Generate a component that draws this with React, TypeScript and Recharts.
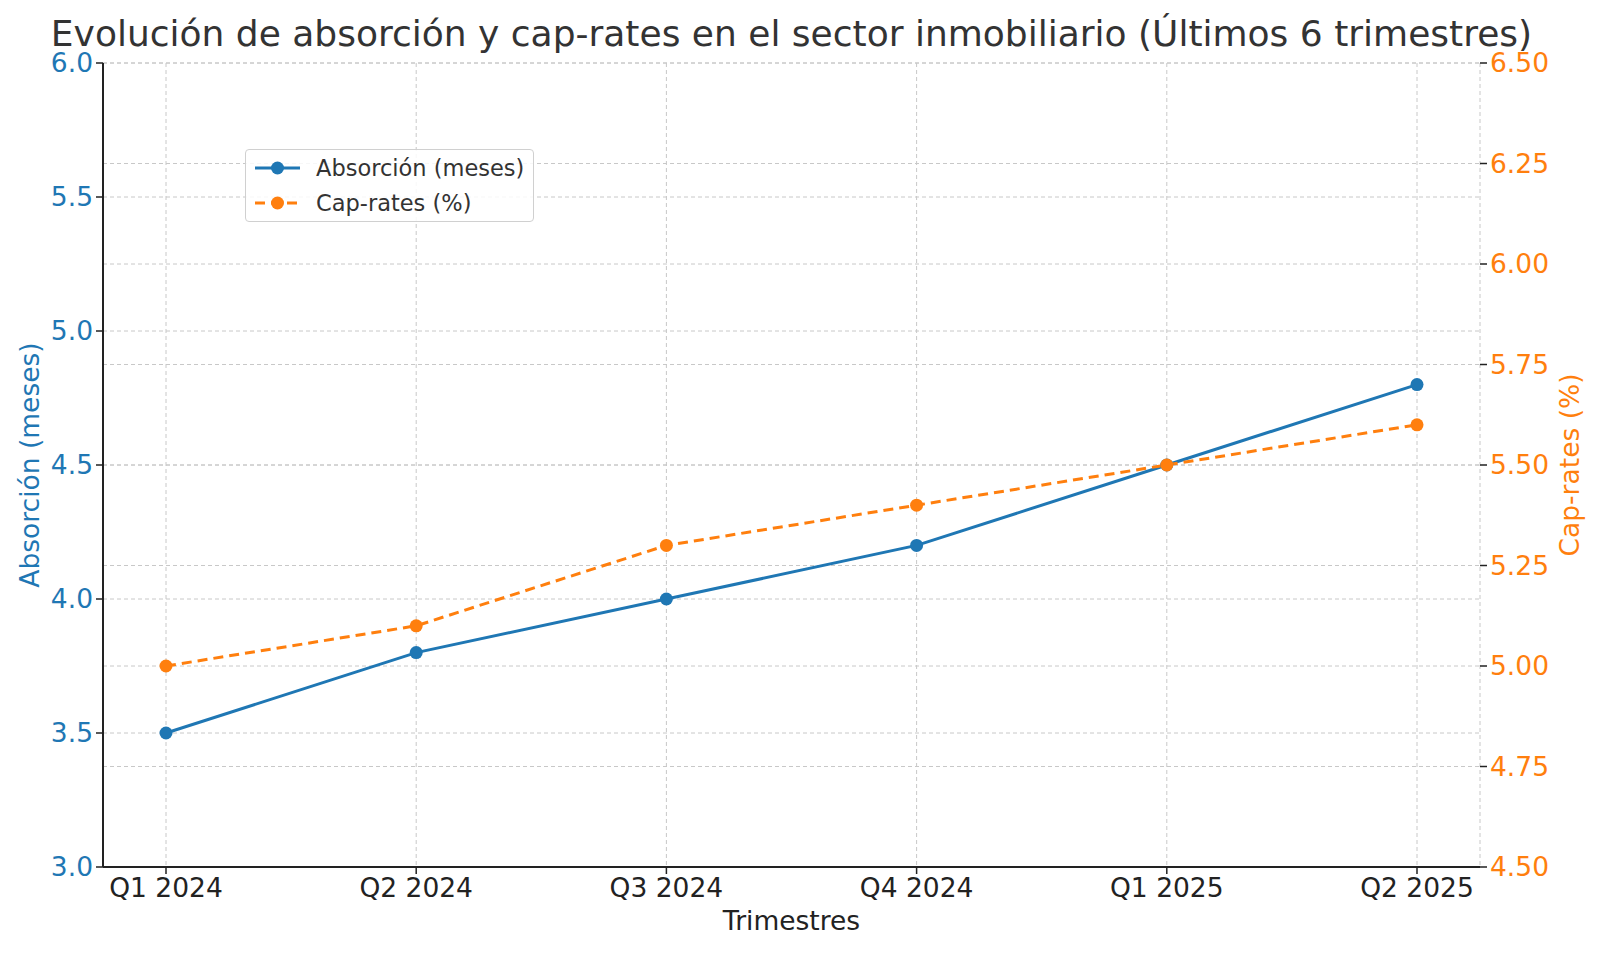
import React from 'react';
import {
  LineChart,
  Line,
  XAxis,
  YAxis,
  CartesianGrid,
} from 'recharts';

const quarters = ['Q1 2024', 'Q2 2024', 'Q3 2024', 'Q4 2024', 'Q1 2025', 'Q2 2025'];
const absorcion = [3.5, 3.8, 4.0, 4.2, 4.5, 4.8];
const capRates = [5.0, 5.1, 5.3, 5.4, 5.5, 5.6];
const leftTicks = [3.0, 3.5, 4.0, 4.5, 5.0, 5.5, 6.0];
const rightTicks = [4.5, 4.75, 5.0, 5.25, 5.5, 5.75, 6.0, 6.25, 6.5];

const BLUE = '#1f77b4';
const ORANGE = '#ff7f0e';
const FONT = '"DejaVu Sans", sans-serif';
const TICK_FS = 26.5;

const data = quarters.map((q, i) => ({ q, abs: absorcion[i], cap: capRates[i] }));

function LegendRow({ color, dashed, label }: { color: string; dashed?: boolean; label: string }) {
  return (
    <div style={{ display: 'flex', alignItems: 'center', height: 35 }}>
      <svg width={60} height={20} style={{ marginLeft: 4, marginRight: 6 }}>
        <line
          x1={5}
          y1={10}
          x2={50}
          y2={10}
          stroke={color}
          strokeWidth={3}
          strokeDasharray={dashed ? '10 6' : undefined}
        />
        <circle cx={27.5} cy={10} r={6.5} fill={color} />
      </svg>
      <span>{label}</span>
    </div>
  );
}

export default function App() {
  return (
    <div
      style={{
        position: 'absolute',
        left: 0,
        top: 0,
        width: 1600,
        height: 953,
        background: '#fff',
        fontFamily: FONT,
      }}
    >
      <div
        style={{
          position: 'absolute',
          top: 13,
          left: 0,
          width: 1583,
          textAlign: 'center',
          fontSize: 36,
          color: '#333',
          whiteSpace: 'nowrap',
        }}
      >
        Evolución de absorción y cap-rates en el sector inmobiliario (Últimos 6 trimestres)
      </div>

      <LineChart
        width={1600}
        height={953}
        data={data}
        margin={{ top: 63, right: 40, bottom: 26, left: 43 }}
      >
        <CartesianGrid
          yAxisId="left"
          stroke="#c8c8c8"
          strokeDasharray="4 3"
        />
        <CartesianGrid
          yAxisId="right"
          vertical={false}
          stroke="#c8c8c8"
          strokeDasharray="4 3"
        />
        <XAxis
          dataKey="q"
          padding={{ left: 63, right: 63 }}
          height={60}
          tick={{ fill: '#222', fontSize: TICK_FS, fontFamily: FONT }}
          tickLine={{ stroke: '#222', strokeWidth: 1.5 }}
          axisLine={{ stroke: '#222', strokeWidth: 2 }}
          tickSize={7}
          tickMargin={4}
        />
        <YAxis
          yAxisId="left"
          domain={[3, 6]}
          ticks={leftTicks}
          tickFormatter={(v: number) => v.toFixed(1)}
          width={60}
          tick={{ fill: BLUE, fontSize: TICK_FS, fontFamily: FONT }}
          tickLine={{ stroke: '#222', strokeWidth: 1.5 }}
          axisLine={{ stroke: '#222', strokeWidth: 2 }}
          tickSize={7}
          tickMargin={3}
        />
        <YAxis
          yAxisId="right"
          orientation="right"
          domain={[4.5, 6.5]}
          ticks={rightTicks}
          tickFormatter={(v: number) => v.toFixed(2)}
          width={80}
          tick={{ fill: ORANGE, fontSize: TICK_FS, fontFamily: FONT }}
          tickLine={{ stroke: '#222', strokeWidth: 1.5 }}
          axisLine={false}
          tickSize={7}
          tickMargin={3}
        />
        <Line
          yAxisId="left"
          dataKey="abs"
          stroke={BLUE}
          strokeWidth={3}
          dot={{ r: 6.5, fill: BLUE, stroke: BLUE, strokeWidth: 0 }}
          isAnimationActive={false}
        />
        <Line
          yAxisId="right"
          dataKey="cap"
          stroke={ORANGE}
          strokeWidth={3}
          strokeDasharray="10 6"
          dot={{ r: 6.5, fill: ORANGE, stroke: ORANGE, strokeWidth: 0, strokeDasharray: '' }}
          isAnimationActive={false}
        />
      </LineChart>

      <div
        style={{
          position: 'absolute',
          top: 905,
          left: 0,
          width: 1583,
          textAlign: 'center',
          fontSize: TICK_FS,
          color: '#222',
        }}
      >
        Trimestres
      </div>
      <div
        style={{
          position: 'absolute',
          left: 29,
          top: 465,
          transform: 'translate(-50%, -50%) rotate(-90deg)',
          whiteSpace: 'nowrap',
          fontSize: TICK_FS,
          color: BLUE,
        }}
      >
        Absorción (meses)
      </div>
      <div
        style={{
          position: 'absolute',
          left: 1569,
          top: 465,
          transform: 'translate(-50%, -50%) rotate(-90deg)',
          whiteSpace: 'nowrap',
          fontSize: TICK_FS,
          color: ORANGE,
        }}
      >
        Cap-rates (%)
      </div>

      <div
        style={{
          position: 'absolute',
          left: 245,
          top: 149,
          width: 289,
          height: 73,
          border: '1px solid #d0d0d0',
          borderRadius: 4,
          background: 'rgba(255,255,255,0.85)',
          fontSize: 22.5,
          color: '#333',
          boxSizing: 'border-box',
          whiteSpace: 'nowrap',
        }}
      >
        <LegendRow color={BLUE} label="Absorción (meses)" />
        <LegendRow color={ORANGE} dashed label="Cap-rates (%)" />
      </div>
    </div>
  );
}
